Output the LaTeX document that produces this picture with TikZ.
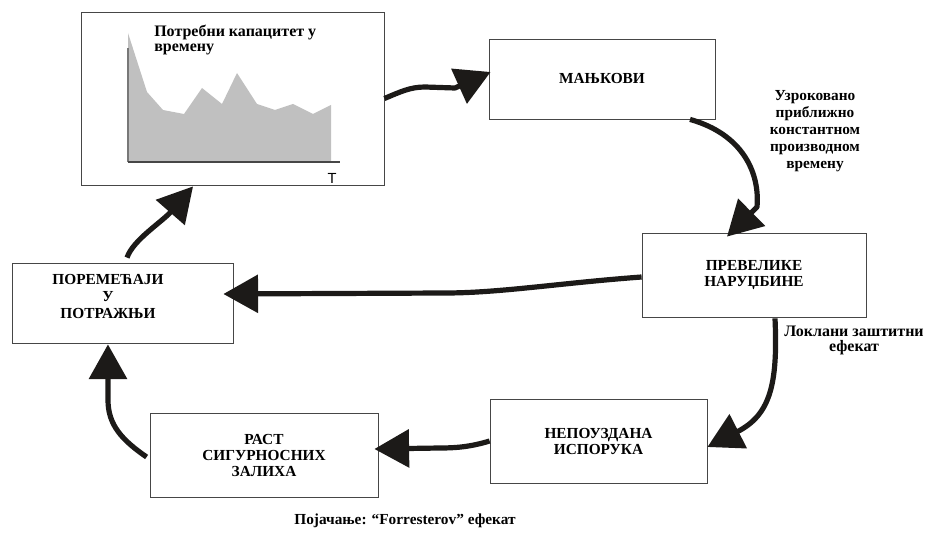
\documentclass[tikz,border=0pt]{standalone}
\usepackage{fontspec}
\setmainfont{Liberation Serif}
\newfontfamily\axisfont{Liberation Sans}
\usetikzlibrary{arrows.meta}

\definecolor{fillgray}{RGB}{192,192,192}
\definecolor{axisgray}{RGB}{120,120,120}
\definecolor{boxline}{RGB}{70,70,70}
\definecolor{ink}{RGB}{28,26,24}

\begin{document}
\begin{tikzpicture}[x=0.75pt,y=-0.75pt,
  box/.style={draw=boxline, line width=0.6pt, inner sep=0pt, align=center,
    font=\bfseries\fontsize{11.5}{12}\selectfont},
  note/.style={inner sep=0pt, font=\bfseries\fontsize{12}{12.75}\selectfont},
  conn/.style={draw=ink, line width=3.9pt, line join=round,
    -{Triangle[length=26pt,width=28pt]}}
]
\useasboundingbox (0,0) rectangle (928,538);

% boxes
\node[box, minimum width=227.25pt, minimum height=129.75pt] (chart) at (232.5,98.5) {};
\node[box, minimum width=169.5pt, minimum height=60pt] (mank) at (602,79) {МАЊКОВИ};
\node[box, minimum width=168pt, minimum height=63pt] (prev) at (754,275) {ПРЕВЕЛИКЕ\\НАРУЏБИНЕ};
\node[box, minimum width=162.75pt, minimum height=63pt] (nep) at (598.5,441) {НЕПОУЗДАНА\\ИСПОРУКА};
\node[box, minimum width=171pt, minimum height=63pt] (rast) at (264,455) {РАСТ\\СИГУРНОСНИХ\\ЗАЛИХА};
\node[box, minimum width=165.75pt, minimum height=60pt] (poremb) at (122.5,303) {};
\node[note, align=center, font=\bfseries\fontsize{11.5}{12.75}\selectfont] (poremt) at (108,296) {ПОРЕМЕЋАЈИ\\У\\ПОТРАЖЊИ};

% demand curve inside the top-left box
\fill[fillgray] (128,162) -- (128,33) -- (147,92) -- (163,110) -- (184,114)
  -- (202,88) -- (222,104) -- (237,73) -- (257,104) -- (275,110) -- (293,104)
  -- (313,114) -- (331,105) -- (331,162) -- cycle;
\draw[axisgray, line width=1.4pt] (128,48) -- (128,162);
\draw[boxline, line width=0.9pt] (128,162) -- (340,162);
\node[inner sep=0pt, font=\axisfont\fontsize{11}{11}\selectfont] (tlabel) at (332,178) {T};
\node[note, anchor=north west, align=left, font=\bfseries\fontsize{12}{11.25}\selectfont] (title) at (154,25) {Потребни капацитет у\\времену};

% side notes
\node[note, align=center, font=\bfseries\fontsize{11.5}{12.75}\selectfont] (cause) at (815,131) {Узроковано\\приближно\\константном\\производном\\времену};
\node[note, align=center, font=\bfseries\fontsize{12}{11.25}\selectfont] (buffer) at (854,340) {Локлани заштитни\\ефекат};
\node[note, font=\bfseries\fontsize{11.5}{12}\selectfont] (caption) at (405,521) {Појачање: “Forresterov” ефекат};

% loop connectors
\draw[conn] (chart.east) .. controls (400,92) and (410,87) .. (425,87) -- (455,88) -- ([xshift=1.5pt,yshift=5.25pt]mank.west);
\draw[conn] ([xshift=66pt]mank.south) .. controls (742,134) and (760,172) .. (757,207) -- ([xshift=-20.25pt,yshift=-3pt]prev.north);
\draw[conn] ([yshift=-1.5pt]prev.west) .. controls (560,283) and (500,293) .. (445,293) -- ([xshift=-7.5pt,yshift=6.75pt]poremb.east);
\draw[conn] ([xshift=15.75pt,yshift=-0.75pt]prev.south) .. controls (778,385) and (770,415) .. ([yshift=-4.5pt]nep.east);
\draw[conn] (nep.west) .. controls (470,447) and (455,448) .. (440,448) -- ([xshift=-3pt,yshift=4.5pt]rast.east);
\draw[conn] ([xshift=-2.25pt,yshift=-1.5pt]rast.west) .. controls (122,440) and (108,425) .. (108,400) -- ([xshift=-10.9pt,yshift=-0.75pt]poremb.south);
\draw[conn] ([xshift=3.4pt,yshift=3.75pt]poremb.north) .. controls (133,240) and (162,222) .. ([xshift=-29.6pt,yshift=-0.75pt]chart.south);
\end{tikzpicture}
\end{document}
